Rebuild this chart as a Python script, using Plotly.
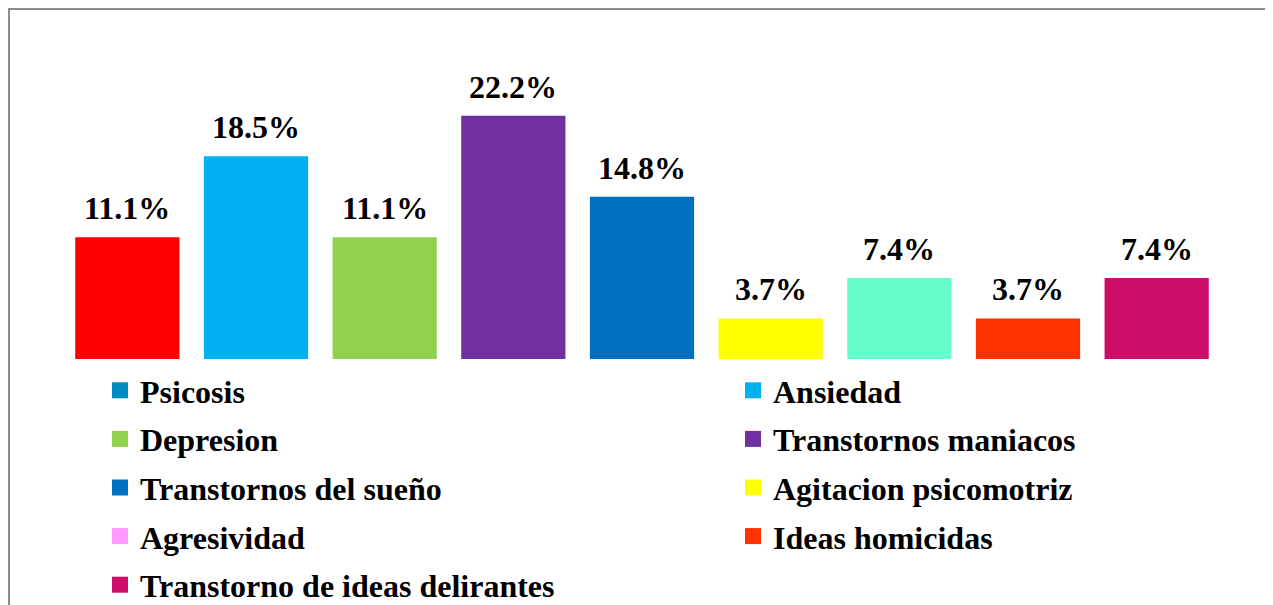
import plotly.graph_objects as go

categories = ["Psicosis", "Ansiedad", "Depresion", "Transtornos maniacos",
              "Transtornos del sueño", "Agitacion psicomotriz", "Agresividad",
              "Ideas homicidas", "Transtorno de ideas delirantes"]
values = [11.1, 18.5, 11.1, 22.2, 14.8, 3.7, 7.4, 3.7, 7.4]
bar_colors = ["#FF0000", "#00B0F0", "#92D050", "#7030A0", "#0070C0",
              "#FFFF00", "#66FFCC", "#FF3300", "#CC0E6A"]
legend_colors = ["#008BC0", "#00B0F0", "#92D050", "#7030A0", "#0070C0",
                 "#FFFF00", "#FF99FF", "#FF3300", "#CC0E6A"]
value_labels = [f"{v:.1f}%" for v in values]

FONT = "Liberation Serif, Times New Roman, serif"
OFF = 8  # page body margin
W, H = 1273 - OFF, 605 - OFF
ML, MT = 55, 32
MR = W - 1213
MB = H - 351
plot_w = W - ML - MR
plot_h = H - MT - MB

fig = go.Figure()
fig.add_trace(go.Bar(
    x=categories, y=values, marker=dict(color=bar_colors, line=dict(width=0)),
    showlegend=False, hoverinfo="skip",
))

for i, (name, col) in enumerate(zip(categories, legend_colors)):
    fig.add_trace(go.Scatter(
        x=[None], y=[None], mode="markers", name=name,
        marker=dict(symbol="square", size=17, color=col, line=dict(width=0)),
        legend="legend" if i % 2 == 0 else "legend2",
        legendgroup=name,
    ))

for c, v, t in zip(categories, values, value_labels):
    fig.add_annotation(x=c, y=v, text=t, showarrow=False, yanchor="bottom",
                       yshift=9, font=dict(family=FONT, size=32, color="black", weight="bold"))

def px_x(p):  # reference page pixel -> paper
    return (p - OFF - ML) / plot_w

def px_y(p):
    return (H - MB - (p - OFF)) / plot_h

legend_common = dict(
    orientation="v", traceorder="grouped", tracegroupgap=4,
    font=dict(family=FONT, size=32, color="black", weight="bold"),
    bgcolor="rgba(0,0,0,0)", borderwidth=0, xanchor="left", yanchor="top",
    itemclick=False, itemdoubleclick=False,
)
fig.update_layout(
    width=W, height=H,
    margin=dict(l=ML, r=MR, t=MT, b=MB, autoexpand=False),
    paper_bgcolor="white", plot_bgcolor="white",
    bargap=0.19,
    xaxis=dict(visible=False, range=[-0.5, 8.5]),
    yaxis=dict(visible=False, range=[0, 29.1]),
    legend=dict(x=px_x(100), y=px_y(363), **legend_common),
    legend2=dict(x=px_x(733), y=px_y(363), **legend_common),
    showlegend=True,
)
fig.add_shape(type="rect", xref="paper", yref="paper",
              x0=px_x(9), x1=px_x(1271), y0=px_y(640), y1=px_y(9),
              line=dict(color="#8C8C8C", width=2), fillcolor="rgba(0,0,0,0)", layer="below")

fig.write_html("out.html")
